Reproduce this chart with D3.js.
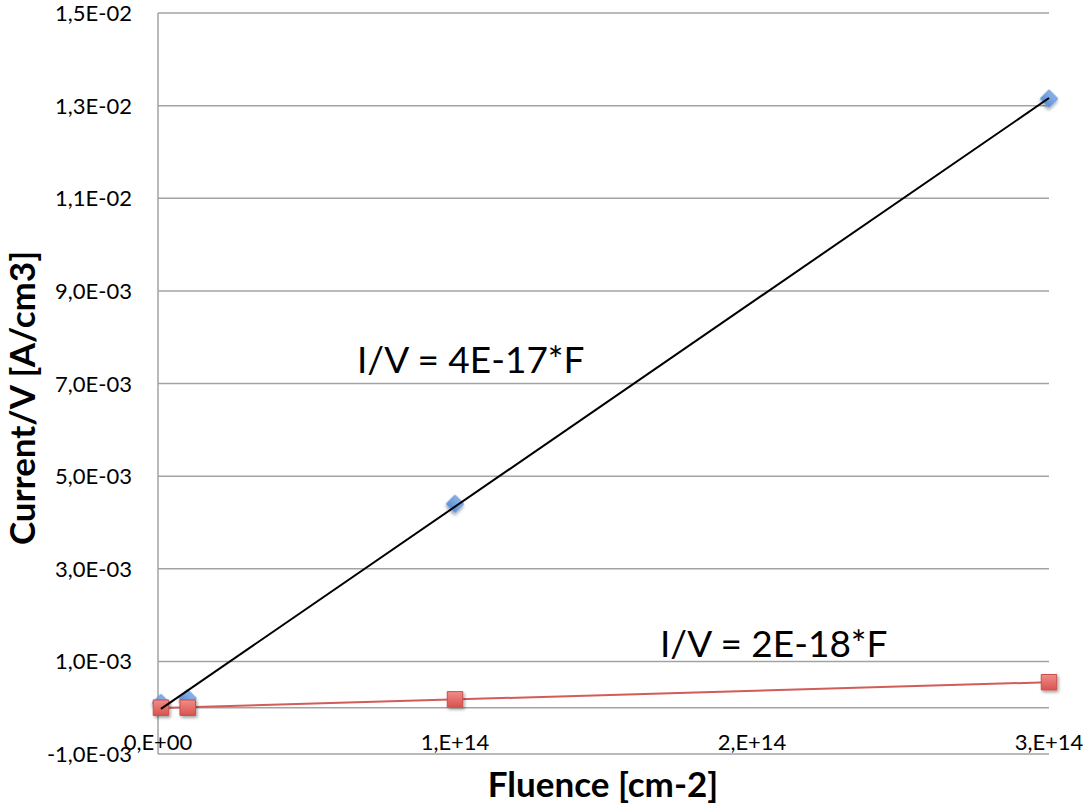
<!DOCTYPE html>
<html>
<head>
<meta charset="utf-8">
<script src="https://cdn.jsdelivr.net/npm/d3@7"></script>
<style>
  body { margin: 0; background: #fff; }
  svg { display: block; font-family: Lato, "Open Sans", sans-serif; }
</style>
</head>
<body>
<svg id="chart" width="1086" height="803"></svg>
<script>
// --- data ---
const fluence = [1e12, 1e13, 1e14, 3e14];
const blueVals = [0.0001, 0.0002, 0.0044, 0.01315];   // diamonds
const redVals = [0.0, 0.0, 0.00018, 0.00055];         // squares
const yTicks = [-0.001, 0.001, 0.003, 0.005, 0.007, 0.009, 0.011, 0.013, 0.015];
const yTickLabels = ["-1,0E-03", "1,0E-03", "3,0E-03", "5,0E-03", "7,0E-03", "9,0E-03", "1,1E-02", "1,3E-02", "1,5E-02"];
const xTicks = [0, 1e14, 2e14, 3e14];
const xTickLabels = ["0,E+00", "1,E+14", "2,E+14", "3,E+14"];
const fitLabels = ["I/V = 4E-17*F", "I/V = 2E-18*F"];

const svg = d3.select("#chart");
const margin = { left: 158, right: 1049, top: 13, bottom: 754 };

const x = d3.scaleLinear().domain([0, 3e14]).range([margin.left, margin.right]);
const y = d3.scaleLinear().domain([-0.001, 0.015]).range([margin.bottom, margin.top]);

// drop shadow like the spreadsheet markers
const defs = svg.append("defs");
const shadow = defs.append("filter").attr("id", "shadow").attr("x", "-50%").attr("y", "-50%").attr("width", "200%").attr("height", "200%");
shadow.append("feDropShadow").attr("dx", 1.5).attr("dy", 2).attr("stdDeviation", 1.5).attr("flood-color", "#000").attr("flood-opacity", 0.35);

const blueGrad = defs.append("linearGradient").attr("id", "blueGrad").attr("x1", 0).attr("y1", 0).attr("x2", 0).attr("y2", 1);
blueGrad.append("stop").attr("offset", "0%").attr("stop-color", "#8db3e8");
blueGrad.append("stop").attr("offset", "100%").attr("stop-color", "#5a8fd6");
const redGrad = defs.append("linearGradient").attr("id", "redGrad").attr("x1", 0).attr("y1", 0).attr("x2", 0).attr("y2", 1);
redGrad.append("stop").attr("offset", "0%").attr("stop-color", "#f08c88");
redGrad.append("stop").attr("offset", "100%").attr("stop-color", "#d9534f");

// gridlines
svg.append("g")
  .selectAll("line")
  .data(yTicks)
  .join("line")
  .attr("x1", margin.left).attr("x2", margin.right)
  .attr("y1", d => y(d)).attr("y2", d => y(d))
  .attr("stroke", "#a3a3a3").attr("stroke-width", 1.5);

// zero axis line
svg.append("line")
  .attr("x1", margin.left).attr("x2", margin.right)
  .attr("y1", y(0)).attr("y2", y(0))
  .attr("stroke", "#a3a3a3").attr("stroke-width", 1.5);

// left axis line
svg.append("line")
  .attr("x1", margin.left).attr("x2", margin.left)
  .attr("y1", margin.top).attr("y2", margin.bottom)
  .attr("stroke", "#a3a3a3").attr("stroke-width", 1.5);

// y tick labels
svg.append("g")
  .selectAll("text")
  .data(yTicks)
  .join("text")
  .attr("x", 132)
  .attr("y", d => y(d) + 8)
  .attr("text-anchor", "end")
  .attr("font-size", 22)
  .attr("fill", "#000")
  .text((d, i) => yTickLabels[i]);

// x tick labels
svg.append("g")
  .selectAll("text")
  .data(xTicks)
  .join("text")
  .attr("x", d => x(d))
  .attr("y", 750)
  .attr("text-anchor", "middle")
  .attr("font-size", 22)
  .attr("fill", "#000")
  .text((d, i) => xTickLabels[i]);

// axis titles
svg.append("text")
  .attr("x", 603).attr("y", 797)
  .attr("text-anchor", "middle")
  .attr("font-size", 35).attr("font-weight", "bold")
  .text("Fluence [cm-2]");

svg.append("text")
  .attr("transform", "translate(35,398) rotate(-90)")
  .attr("text-anchor", "middle")
  .attr("font-size", 35).attr("font-weight", "bold")
  .text("Current/V [A/cm3]");

// least-squares trend line for a series
function fit(xs, ys) {
  const mx = d3.mean(xs), my = d3.mean(ys);
  const sxy = d3.sum(xs, (v, i) => (v - mx) * (ys[i] - my));
  const sxx = d3.sum(xs, v => (v - mx) * (v - mx));
  const b = sxy / sxx;
  const a = my - b * mx;
  const x0 = d3.min(xs), x1 = d3.max(xs);
  return [[x0, a + b * x0], [x1, a + b * x1]];
}

const line = d3.line().x(d => x(d[0])).y(d => y(d[1]));
const redPts = fluence.map((f, i) => [f, redVals[i]]);
const bluePts = fluence.map((f, i) => [f, blueVals[i]]);

// blue diamonds
svg.append("g")
  .selectAll("path")
  .data(bluePts)
  .join("path")
  .attr("d", d3.symbol(d3.symbolSquare, 150))
  .attr("transform", d => `translate(${x(d[0])},${y(d[1])}) rotate(45)`)
  .attr("fill", "url(#blueGrad)")
  .attr("stroke", "#6a9ad8").attr("stroke-width", 1)
  .attr("filter", "url(#shadow)");

// red connecting line (red series trend)
svg.append("path")
  .datum(fit(fluence, redVals))
  .attr("d", line)
  .attr("fill", "none")
  .attr("stroke", "#d25c58").attr("stroke-width", 2);

// red squares
svg.append("g")
  .selectAll("path")
  .data(redPts)
  .join("path")
  .attr("d", d3.symbol(d3.symbolSquare, 240))
  .attr("transform", d => `translate(${x(d[0])},${y(d[1])})`)
  .attr("fill", "url(#redGrad)")
  .attr("stroke", "#c9504c").attr("stroke-width", 1)
  .attr("filter", "url(#shadow)");

// black trend line for blue series
svg.append("path")
  .datum(fit(fluence, blueVals))
  .attr("d", line)
  .attr("fill", "none")
  .attr("stroke", "#000").attr("stroke-width", 2);

// fit equations
svg.append("text")
  .attr("x", 357).attr("y", 373)
  .attr("font-size", 37)
  .text(fitLabels[0]);

svg.append("text")
  .attr("x", 660).attr("y", 657)
  .attr("font-size", 37)
  .text(fitLabels[1]);
</script>
</body>
</html>
